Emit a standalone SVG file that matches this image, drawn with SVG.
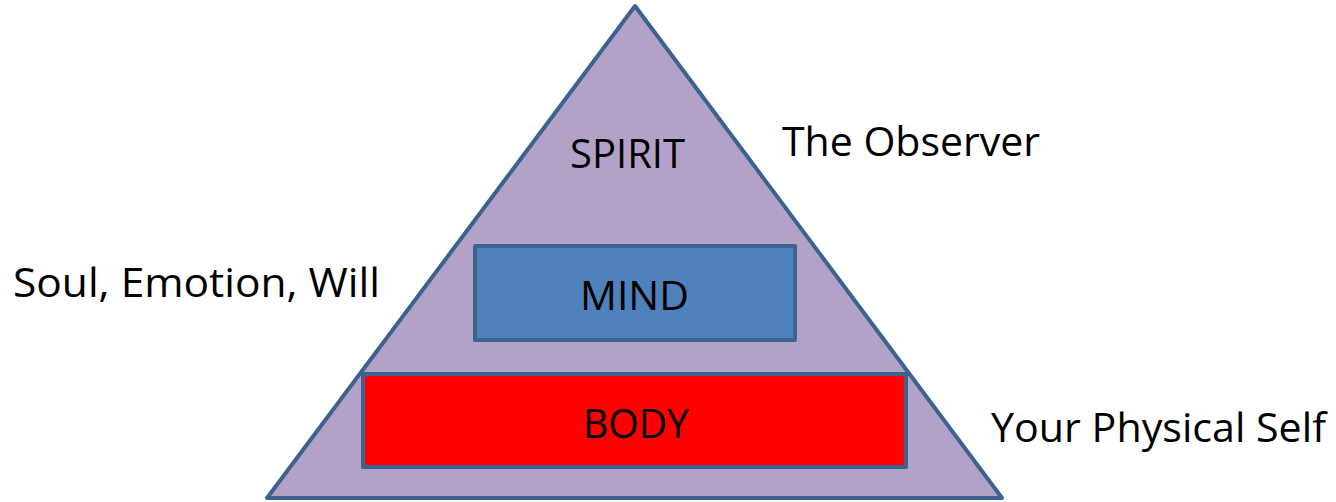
<svg xmlns="http://www.w3.org/2000/svg" width="1336" height="502" viewBox="0 0 1336 502">
<style>
.t{font-family:"Open Sans","Noto Sans","Liberation Sans",sans-serif;font-size:40px;fill:#000}
.s{stroke:#3c6390;stroke-width:4;stroke-linejoin:round}
</style>
<rect width="1336" height="502" fill="#fff"/>
<g id="pyramid">
<polygon class="s" points="635,6 267,498 1002,498" fill="#b3a2c7"/>
<text class="t" x="570" y="168" textLength="115" lengthAdjust="spacingAndGlyphs">SPIRIT</text>
</g>
<g id="mind">
<rect class="s" x="475" y="246" width="320" height="94" fill="#4f81bd"/>
<text class="t" x="580" y="310" textLength="109" lengthAdjust="spacingAndGlyphs">MIND</text>
</g>
<g id="body">
<rect class="s" x="363" y="374" width="543" height="93" fill="#ff0000"/>
<text class="t" x="583" y="438" textLength="106" lengthAdjust="spacingAndGlyphs">BODY</text>
</g>
<g id="labels">
<text class="t" x="782" y="156" textLength="258" lengthAdjust="spacingAndGlyphs">The Observer</text>
<text class="t" x="13" y="297" textLength="367" lengthAdjust="spacingAndGlyphs">Soul, Emotion, Will</text>
<text class="t" x="991" y="442" textLength="335" lengthAdjust="spacingAndGlyphs">Your Physical Self</text>
</g>
<g id="connectors"/>
</svg>
